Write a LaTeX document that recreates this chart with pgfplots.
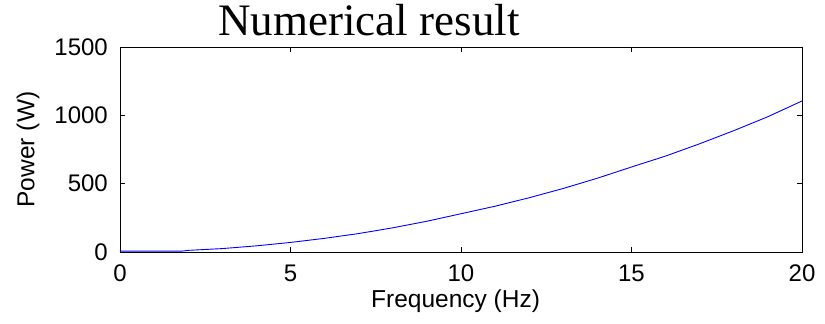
\documentclass[border=0pt]{standalone}
\usepackage{pgfplots}
\pgfplotsset{compat=1.18}
\usepackage{fontspec}
\setmainfont{Liberation Sans}
\newfontfamily\timesfont{Liberation Serif}
\begin{document}
\begin{tikzpicture}[x=1pt,y=1pt]
\useasboundingbox (0,0) rectangle (825,324);
\begin{axis}[
  at={(120pt,72pt)}, anchor=south west,
  scale only axis, width=682pt, height=205pt,
  xmin=0, xmax=20, ymin=0, ymax=1500,
  xtick={0,5,10,15,20}, ytick={0,500,1000,1500},
  tick align=inside, major tick length=5pt,
  xtick pos=both, ytick pos=both,
  axis line style={line width=0.9pt},
  tick style={line width=0.8pt, black},
  /pgf/number format/assume math mode=true,
  /pgf/number format/set thousands separator={},
  ticklabel style={font=\fontsize{24}{28}\selectfont},
  xticklabel style={anchor=base, yshift=-30pt, inner sep=0pt},
  yticklabel style={anchor=east, xshift=-12pt, inner sep=0pt},
  xlabel={Frequency (Hz)},
  ylabel={Power (W)},
  label style={font=\fontsize{24.5}{28}\selectfont},
  xlabel style={at={(axis description cs:0.492,-0.27)}, anchor=base, inner sep=0pt},
  ylabel style={at={(axis description cs:-0.135,0.5)}, anchor=center, rotate=0, inner sep=0pt},
]
\addplot[blue, line width=0.9pt] coordinates {
(0,6) (1,6) (1.8,6) (2,12) (3,25) (4,45) (5,70) (6,100) (7,135) (8,177) (9,225)
(10,280) (11,335) (12,397) (13,465) (14,540) (15,622) (16,702) (17,792) (18,888) (19,990) (20,1105)
};
\end{axis}
\node[anchor=base, inner sep=0pt, font=\timesfont\fontsize{45}{48}\selectfont] at (369,288) {Numerical result};
\end{tikzpicture}
\end{document}
